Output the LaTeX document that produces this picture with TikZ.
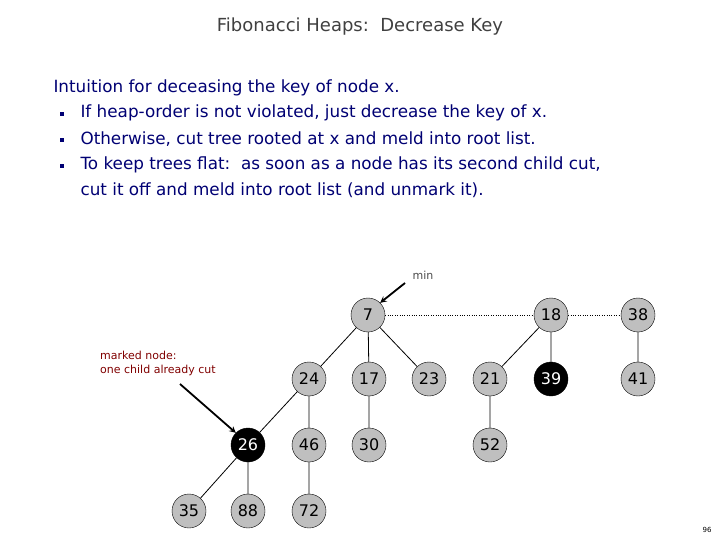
\documentclass[tikz,border=0pt]{standalone}
\usepackage{fontspec}
\setmainfont{DejaVu Sans}
\begin{document}
\begin{tikzpicture}[x=1pt,y=-1pt,
  nd/.style={circle,draw=black,fill=gray!50,minimum size=34pt,inner sep=0pt,font=\fontsize{16}{18}\selectfont},
  mk/.style={nd,fill=black,text=white},
  ln/.style={draw=black,line width=0.8pt},
  txt/.style={anchor=west,text=blue!45!black,font=\fontsize{16.8}{20}\selectfont},
  bul/.style={fill=blue!45!black,minimum size=4pt,inner sep=0pt}]
\useasboundingbox (0,0) rectangle (720,540);
\node[text=black!75] (title) at (360,27) {\fontsize{18}{20}\selectfont Fibonacci Heaps:\ \ Decrease Key};
\node[txt] (l0) at (50,88) {Intuition for deceasing the key of node x.};
\node[txt] (l1) at (77,113) {If heap-order is not violated, just decrease the key of x.};
\node[txt] (l2) at (77,139) {Otherwise, cut tree rooted at x and meld into root list.};
\node[txt] (l3) at (77,165) {To keep trees flat:\ \ as soon as a node has its second child cut,};
\node[txt] (l4) at (77,190) {cut it off and meld into root list (and unmark it).};
\node[bul] (b1) at (62,114) {};
\node[bul] (b2) at (62,140) {};
\node[bul] (b3) at (62,166) {};
\node[nd] (n7) at (368,315) {7};
\node[nd] (n18) at (551,315) {18};
\node[nd] (n38) at (638,315) {38};
\node[nd] (n24) at (309,379) {24};
\node[nd] (n17) at (369,379) {17};
\node[nd] (n23) at (429,379) {23};
\node[nd] (n21) at (490,379) {21};
\node[mk] (n39) at (551,379) {39};
\node[nd] (n41) at (638,379) {41};
\node[mk] (n26) at (248,445) {26};
\node[nd] (n46) at (309,445) {46};
\node[nd] (n30) at (369,445) {30};
\node[nd] (n52) at (490,445) {52};
\node[nd] (n35) at (189,511) {35};
\node[nd] (n88) at (248,511) {88};
\node[nd] (n72) at (309,511) {72};
\draw[dotted] (n7) -- (n18);
\draw[dotted] (n18) -- (n38);
\draw[ln] (n7)--(n24) (n7)--(n17) (n7)--(n23) (n18)--(n21) (n18)--(n39) (n38)--(n41)
  (n24)--(n26) (n24)--(n46) (n17)--(n30) (n21)--(n52) (n26)--(n35) (n26)--(n88) (n46)--(n72);
\node[font=\fontsize{11}{12}\selectfont,text=black!70] (min) at (423,275) {min};
\coordinate (ms) at (405,283);
\draw[line width=1.8pt,-stealth] (ms) -- (n7.north east);
\node[anchor=north west,align=left,text=red!50!black,font=\fontsize{11}{13.5}\selectfont,inner sep=0pt] (mlab) at (100,351) {marked node:\\one child already cut};
\coordinate (ks) at (180,384);
\draw[line width=1.8pt,-stealth] (ks) -- (n26.north west);
\node[font=\fontsize{7}{8}\selectfont] (pg) at (707,530) {96};
\end{tikzpicture}
\end{document}
